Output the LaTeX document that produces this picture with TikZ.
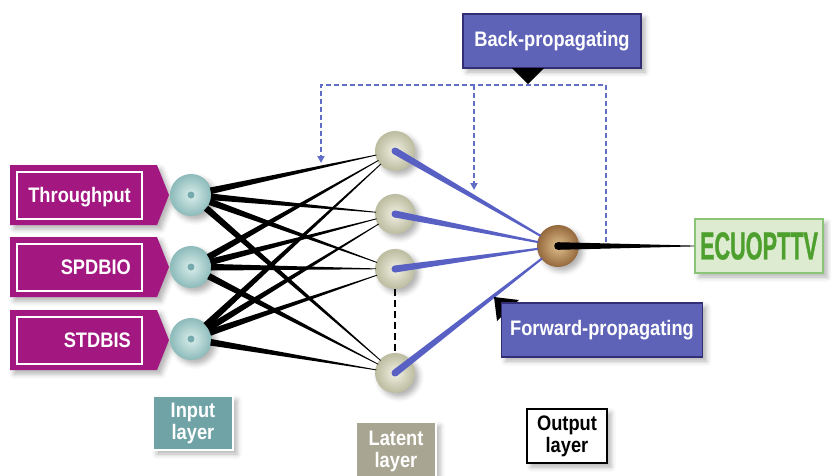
\documentclass[tikz,border=0pt]{standalone}
\usepackage{fontspec}
\setmainfont{Liberation Sans}
\newfontfamily\lblfont{Liberation Sans}[FakeStretch=0.87]
\newfontfamily\ecufont{Liberation Sans}[FakeStretch=0.555,FakeBold=0.8]
\usetikzlibrary{calc,arrows.meta,shadows.blur}

% tapered connector: from, to, half width at start, half width at end, colour
\newcommand\taper[5]{%
  \fill[#5] ($(#1)!#3!90:(#2)$) -- ($(#2)!#4!-90:(#1)$) -- ($(#2)!#4!90:(#1)$) -- ($(#1)!#3!-90:(#2)$) -- cycle;}

\begin{document}
\begin{tikzpicture}[x=1pt,y=-1pt,
    lbl/.style={font=\lblfont\bfseries\fontsize{21}{22}\selectfont},
    soft/.style={blur shadow={shadow xshift=4pt,shadow yshift=-4pt,shadow opacity=30,shadow blur radius=5pt}},
    ball/.style={circle,minimum size=42pt,inner sep=0pt,soft},
    layerbox/.style={lbl,draw=labelblue,line width=1.6pt,minimum width=80pt,minimum height=54pt,align=center,inner sep=2pt,soft},
    callout/.style={lbl,white,fill=backblue,draw=navy,line width=1.4pt,minimum height=54pt,soft},
    backflow/.style={draw=dashblue,line width=2.4pt,dash pattern=on 5pt off 3pt},
  ]
    % Define colors
    \definecolor{magbox}{RGB}{162,24,128}
    \definecolor{backblue}{RGB}{94,99,184}
    \definecolor{navy}{RGB}{50,46,118}
    \definecolor{dashblue}{RGB}{96,110,200}
    \definecolor{linkblue}{RGB}{88,96,196}
    \definecolor{ecufill}{RGB}{221,236,208}
    \definecolor{ecuedge}{RGB}{138,196,118}
    \definecolor{ecutext}{RGB}{78,160,46}
    \definecolor{labelblue}{RGB}{88,96,180}
    \definecolor{inputfill}{RGB}{112,163,166}
    \definecolor{latentfill}{RGB}{168,165,146}
    \definecolor{tealin}{RGB}{218,238,236}
    \definecolor{tealout}{RGB}{140,186,186}
    \definecolor{tealdot}{RGB}{118,170,172}
    \definecolor{beigein}{RGB}{240,240,226}
    \definecolor{beigeout}{RGB}{188,188,160}
    \definecolor{brownin}{RGB}{224,192,142}
    \definecolor{brownout}{RGB}{148,104,60}

    \useasboundingbox (0,0) rectangle (831,475);

    % Input boxes
    \foreach \y/\t/\n in {195/Throughput/thru, 267/SPDBIO/spd, 340/STDBIS/std} {
        \fill[magbox,soft] (10,\y-30) -- (157,\y-30) -- (169,\y) -- (157,\y+30) -- (10,\y+30) -- cycle;
        \draw[white,line width=1.2pt] (17,\y-23) rectangle (142,\y+24);
        \node[lbl,white,anchor=base east,inner sep=0pt] (\n) at (131,\y+7.5) {\t};
    }

    % Input layer
    \foreach \i/\y in {1/195, 2/267, 3/339}
        \node[ball,inner color=tealin,outer color=tealout,
              path picture={\fill[tealdot] (path picture bounding box.center) circle (3.5pt);}]
              (in\i) at (191,\y) {};

    % Latent layer
    \foreach \i/\y in {1/151, 2/214, 3/269, 4/373}
        \node[ball,minimum size=40pt,inner color=beigein,outer color=beigeout] (lat\i) at (395,\y) {};

    % Output layer
    \node[ball,inner color=brownin,outer color=brownout] (out) at (558,246) {};
    \node[ecutext,fill=ecufill,draw=ecuedge,line width=1.6pt,minimum width=128pt,minimum height=54pt,soft,
          font=\ecufont\bfseries\fontsize{39}{39}\selectfont] (ecu) at (759,246) {ECUOPTTV};

    % Input to latent links
    \foreach \i in {1,2,3}
        \foreach \j in {1,2,3,4}
            \taper{$(in\i)!20pt!(lat\j)$}{$(lat\j)!19pt!(in\i)$}{3.3pt}{0.4pt}{black};

    % Latent to output links
    \foreach \j in {1,2,3,4} {
        \taper{lat\j.center}{$(out)!20pt!(lat\j)$}{3.5pt}{1pt}{linkblue}
        \fill[linkblue] (lat\j.center) circle (3.5pt);
    }
    \draw[line width=2pt,dash pattern=on 7pt off 4pt] (lat3.south) -- (lat4.north);

    % Output to ECUOPTTV
    \taper{out.center}{ecu.west}{3.8pt}{0.4pt}{black}
    \fill (out.center) circle (3.8pt);

    % Back-propagating
    \node[callout,minimum width=178pt] (back) at (552,41) {Back-propagating};
    \fill (512,68) -- (544,68) -- (528,84) -- cycle;
    \coordinate (bkstart) at (606,242);
    \coordinate (bkright) at (606,85);
    \coordinate (bkleft) at (321,85);
    \coordinate (bkmid) at (474,85);
    \coordinate (bkin) at (321,163);
    \coordinate (bkout) at (474,190);
    \draw[backflow,-{Triangle[length=7pt,width=7pt]}] (bkstart) -- (bkright) -- (bkleft) -- (bkin);
    \draw[backflow,-{Triangle[length=7pt,width=7pt]}] (bkmid) -- (bkout);

    % Forward-propagating
    \fill (494,297) -- (519,300) -- (497,321) -- cycle;
    \node[callout,minimum width=201pt] (fwd) at (602,330) {Forward-propagating};

    % Layer labels
    \node[layerbox,white,fill=inputfill] (inlbl) at (193,423) {Input\\layer};
    \node[layerbox,white,fill=latentfill,minimum height=58pt] (latlbl) at (396,451) {Latent\\layer};
    \node[layerbox,black,fill=white] (outlbl) at (567,436) {Output\\layer};

\end{tikzpicture}
\end{document}
